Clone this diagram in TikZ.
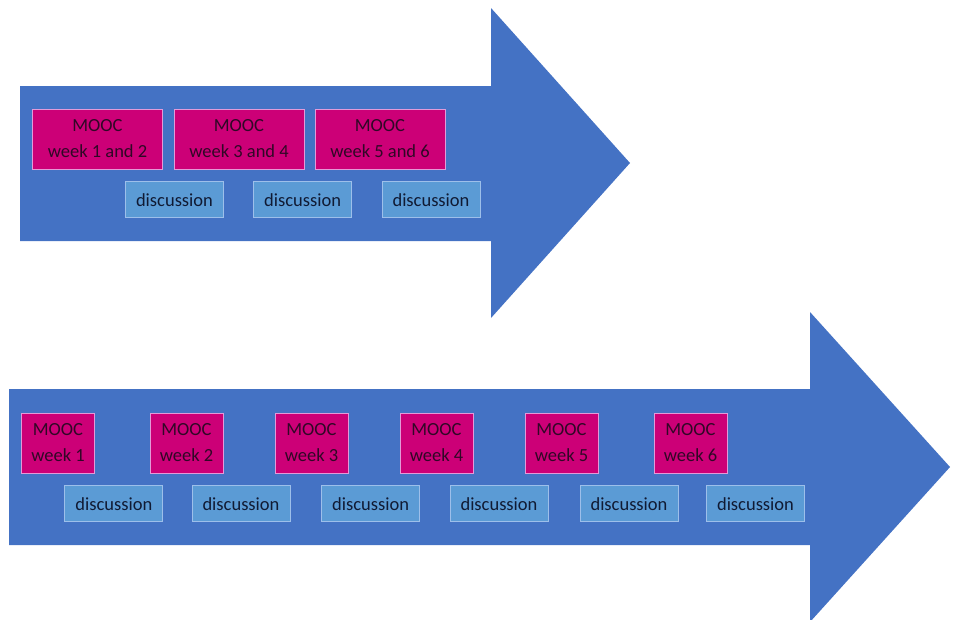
\documentclass[tikz,border=0pt]{standalone}
\usepackage{fontspec}
\setmainfont{Carlito}
\usepackage{tikz}
\definecolor{arrowblue}{HTML}{4472C4}
\definecolor{moocfill}{HTML}{CC0077}
\definecolor{moocline}{HTML}{E39AD8}
\definecolor{mooctext}{HTML}{300826}
\definecolor{talkfill}{HTML}{5B9BD5}
\definecolor{talkline}{HTML}{9DBFEA}
\definecolor{talktext}{HTML}{101A33}
\tikzset{
  mooc/.style={draw=moocline,fill=moocfill,text=mooctext,line width=0.8pt,
    inner sep=0pt,minimum height=60pt,align=center,
    font=\fontsize{18.5}{26}\selectfont},
  talk/.style={draw=talkline,fill=talkfill,text=talktext,line width=0.8pt,
    inner sep=0pt,minimum width=98pt,minimum height=36pt,
    font=\fontsize{18.5}{26}\selectfont},
}

\begin{document}
\begin{tikzpicture}[x=1pt,y=-1pt]
    \useasboundingbox (0,0) rectangle (957,619);
    % the two arrows
    \fill[arrowblue] (20,86)--(491,86)--(491,8)--(630,163)--(491,318)--(491,241)--(20,241)--cycle;
    \fill[arrowblue] (9,389)--(810,389)--(810,312)--(950,467)--(810,622)--(810,545)--(9,545)--cycle;
    % top: two weeks per block
    \node[mooc,minimum width=130pt] (m1) at (97.5,139) {MOOC\\week 1 and 2};
    \node[mooc,minimum width=130pt] (m2) at (239,139) {MOOC\\week 3 and 4};
    \node[mooc,minimum width=130pt] (m3) at (380,139) {MOOC\\week 5 and 6};
    \node[talk] (d1) at (174.5,199.7) {discussion};
    \node[talk] (d2) at (302.6,199.7) {discussion};
    \node[talk] (d3) at (431,199.7) {discussion};
    % bottom: one week per block
    \node[mooc,minimum width=73pt] (w1) at (58,443) {MOOC\\week 1};
    \node[mooc,minimum width=73pt] (w2) at (186.5,443) {MOOC\\week 2};
    \node[mooc,minimum width=73pt] (w3) at (311.5,443) {MOOC\\week 3};
    \node[mooc,minimum width=73pt] (w4) at (436.5,443) {MOOC\\week 4};
    \node[mooc,minimum width=73pt] (w5) at (561.5,443) {MOOC\\week 5};
    \node[mooc,minimum width=73pt] (w6) at (690.5,443) {MOOC\\week 6};
    \node[talk] (t1) at (113.8,503.7) {discussion};
    \node[talk] (t2) at (241,503.7) {discussion};
    \node[talk] (t3) at (370.6,503.7) {discussion};
    \node[talk] (t4) at (499,503.7) {discussion};
    \node[talk] (t5) at (629,503.7) {discussion};
    \node[talk] (t6) at (755.5,503.7) {discussion};
\end{tikzpicture}
\end{document}
